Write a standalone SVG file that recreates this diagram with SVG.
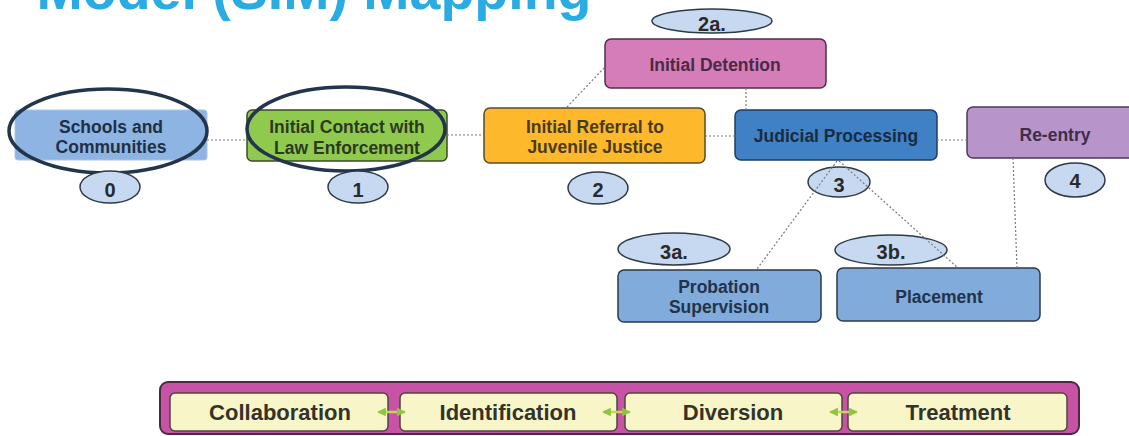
<svg xmlns="http://www.w3.org/2000/svg" width="1129" height="436" viewBox="0 0 1129 436">
<defs>
<style>
.t{font-family:"Liberation Sans",Arial,sans-serif;font-weight:bold;text-anchor:middle}
.n{font-size:17.5px}
.num{font-size:20px;fill:#2a2a2a}
.bar{font-size:22px;fill:#33332a}
.lbl{fill:#c6d9f1;stroke:#2e3a46;stroke-width:1.5}
.box{stroke-width:1.5}
.conn{stroke:#7a7a7a;stroke-width:1.2;stroke-dasharray:2 2;fill:none}
.inner{fill:#f8f5c9;stroke:#4a4a3a;stroke-width:1.5}
.arr{stroke:#c9d26a;stroke-width:2.5;fill:none;marker-start:url(#ah);marker-end:url(#ah)}
</style>
<marker id="ah" viewBox="0 0 10 10" refX="9" refY="5" markerWidth="3.5" markerHeight="3.5" orient="auto-start-reverse">
<path d="M0,0 L10,5 L0,10 z" fill="#8cc63f"/>
</marker>
</defs>
<rect width="1129" height="436" fill="#ffffff"/>
<text class="t" x="314" y="9" font-size="55.5" fill="#2aabe2">Model (SIM) Mapping</text>

<g id="schools">
<rect x="15" y="110" width="192" height="50" rx="3" fill="#8db4e2" stroke="#a9c4e6" stroke-width="1"/>
<text class="t n" x="111" y="133" fill="#1f2f45">Schools and</text>
<text class="t n" x="111" y="153" fill="#1f2f45">Communities</text>
<ellipse cx="108" cy="131" rx="99" ry="42" fill="none" stroke="#23344d" stroke-width="3.5"/>
</g>
<g id="label0"><ellipse class="lbl" cx="110" cy="187" rx="30" ry="16"/><text class="t num" x="110" y="197">0</text></g>

<g id="contact">
<rect class="box" x="247" y="110" width="200" height="51" rx="5" fill="#8fca4f" stroke="#3b4a2a"/>
<text class="t n" x="347" y="133" fill="#2b3a1e">Initial Contact with</text>
<text class="t n" x="347" y="154" fill="#2b3a1e">Law Enforcement</text>
<ellipse cx="346" cy="129" rx="99" ry="42" fill="none" stroke="#23344d" stroke-width="3.5"/>
</g>
<g id="label1"><ellipse class="lbl" cx="358" cy="187" rx="30" ry="16"/><text class="t num" x="358" y="197">1</text></g>

<g id="referral">
<rect class="box" x="484" y="108" width="221" height="55" rx="6" fill="#fdb92b" stroke="#5a4a2a"/>
<text class="t n" x="595" y="133" fill="#4a3b1a">Initial Referral to</text>
<text class="t n" x="595" y="153" fill="#4a3b1a">Juvenile Justice</text>
</g>
<g id="label2"><ellipse class="lbl" cx="598" cy="188" rx="30" ry="16"/><text class="t num" x="598" y="197">2</text></g>

<g id="detention">
<rect class="box" x="605" y="39" width="221" height="49" rx="6" fill="#d47db8" stroke="#4a3045"/>
<text class="t n" x="715" y="71" fill="#4a2a45">Initial Detention</text>
</g>
<g id="label2a"><ellipse class="lbl" cx="712" cy="21" rx="60" ry="12"/><text class="t num" x="712" y="31">2a.</text></g>

<g id="judicial">
<rect class="box" x="735" y="110" width="202" height="50" rx="6" fill="#4080c5" stroke="#1f3d5f"/>
<text class="t n" x="836" y="142" fill="#182c40">Judicial Processing</text>
</g>
<g id="label3"><ellipse class="lbl" cx="839" cy="182" rx="31" ry="15"/><text class="t num" x="839" y="192">3</text></g>

<g id="reentry">
<rect class="box" x="967" y="107" width="172" height="51" rx="6" fill="#b794c9" stroke="#4a3a55"/>
<text class="t n" x="1055" y="141" fill="#3e2e4a">Re-entry</text>
</g>
<g id="label4"><ellipse class="lbl" cx="1075" cy="180" rx="30" ry="17"/><text class="t num" x="1075" y="188">4</text></g>

<g id="probation">
<rect class="box" x="618" y="270" width="203" height="52" rx="6" fill="#80abdb" stroke="#2e3a46"/>
<text class="t n" x="719" y="293" fill="#23334a">Probation</text>
<text class="t n" x="719" y="313" fill="#23334a">Supervision</text>
</g>
<g id="label3a"><ellipse class="lbl" cx="674" cy="249" rx="56" ry="16"/><text class="t num" x="674" y="259">3a.</text></g>

<g id="placement">
<rect class="box" x="837" y="268" width="203" height="53" rx="6" fill="#80abdb" stroke="#2e3a46"/>
<text class="t n" x="939" y="303" fill="#23334a">Placement</text>
</g>
<g id="label3b"><ellipse class="lbl" cx="891" cy="250" rx="56" ry="15"/><text class="t num" x="891" y="259">3b.</text></g>

<g id="connectors">
<line class="conn" x1="207" y1="140" x2="247" y2="140"/>
<line class="conn" x1="447" y1="135" x2="484" y2="135"/>
<line class="conn" x1="705" y1="136" x2="735" y2="136"/>
<line class="conn" x1="567" y1="107" x2="605" y2="67"/>
<line class="conn" x1="746" y1="88" x2="746" y2="110"/>
<line class="conn" x1="937" y1="140" x2="967" y2="140"/>
<line class="conn" x1="837" y1="161" x2="757" y2="269"/>
<line class="conn" x1="839" y1="161" x2="958" y2="268"/>
<line class="conn" x1="1013" y1="158" x2="1017" y2="268"/>
</g>

<g id="bar">
<rect x="160" y="382" width="919" height="52" rx="8" fill="#c852a6" stroke="#4a2a40" stroke-width="2"/>
</g>
<g id="collaboration"><rect class="inner" x="170" y="393" width="218" height="38" rx="5"/><text class="t bar" x="280" y="420">Collaboration</text></g>
<g id="identification"><rect class="inner" x="400" y="393" width="217" height="38" rx="5"/><text class="t bar" x="508" y="420">Identification</text></g>
<g id="diversion"><rect class="inner" x="625" y="393" width="217" height="38" rx="5"/><text class="t bar" x="733" y="420">Diversion</text></g>
<g id="treatment"><rect class="inner" x="848" y="393" width="219" height="38" rx="5"/><text class="t bar" x="958" y="420">Treatment</text></g>
<g id="bar-arrows">
<line class="arr" x1="378" y1="412" x2="405" y2="412"/>
<line class="arr" x1="603" y1="412" x2="630" y2="412"/>
<line class="arr" x1="830" y1="412" x2="857" y2="412"/>
</g>
</svg>
